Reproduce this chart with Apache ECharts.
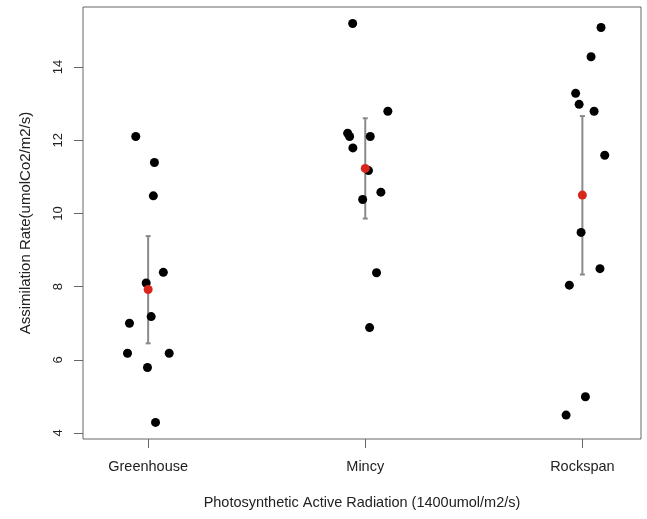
<!DOCTYPE html>
<html>
<head>
<meta charset="utf-8">
<title>Assimilation rate by site</title>
<script src="https://cdn.jsdelivr.net/npm/echarts@6/dist/echarts.min.js"></script>
<style>
  html, body { margin: 0; padding: 0; background: #fff; }
  #chart { width: 647px; height: 519px; }
</style>
</head>
<body>
<div id="chart"></div>
<script>
// sites along the x axis
const sites = ['Greenhouse', 'Mincy', 'Rockspan'];

// assimilation rate of each leaf, per site
const greenhouseRate = [12.10, 11.39, 10.48, 8.39, 8.10, 7.18, 7.00, 6.18, 6.18, 5.79, 4.29];
const mincyRate = [15.19, 12.79, 12.19, 12.10, 12.10, 11.79, 11.17, 10.58, 10.38, 8.38, 6.88];
const rockspanRate = [15.08, 14.28, 13.28, 12.98, 12.79, 11.59, 9.48, 8.49, 8.04, 4.99, 4.49];

// horizontal jitter of each point (stripchart), in category units
const greenhouseJitter = [-0.057, 0.029, 0.024, 0.070, -0.009, 0.014, -0.086, -0.095, 0.097, -0.003, 0.034];
const mincyJitter = [-0.058, 0.104, -0.081, -0.072, 0.023, -0.057, 0.015, 0.072, -0.012, 0.052, 0.020];
const rockspanJitter = [0.086, 0.040, -0.031, -0.015, 0.054, 0.103, -0.006, 0.081, -0.060, 0.014, -0.075];

// group means and error bar ends
const meanRate = [7.92, 11.23, 10.50];
const errLow = [6.45, 9.86, 8.33];
const errHigh = [9.38, 12.60, 12.66];

const yTicks = [4, 6, 8, 10, 12, 14];

const rates = [greenhouseRate, mincyRate, rockspanRate];
const jitters = [greenhouseJitter, mincyJitter, rockspanJitter];

const points = [];
rates.forEach((list, g) => {
  list.forEach((v, i) => {
    points.push([g + 1 + jitters[g][i], v]);
  });
});

const chart = echarts.init(document.getElementById('chart'));

const axisGray = '#666';
const font = 'Liberation Sans, Arial, sans-serif';

const option = {
  animation: false,
  backgroundColor: '#fff',
  grid: {
    left: 83,
    right: 6,
    top: 7,
    bottom: 80,
    show: true,
    borderColor: axisGray,
    borderWidth: 1
  },
  xAxis: {
    type: 'value',
    min: 0.70,
    max: 3.27,
    name: 'Photosynthetic Active Radiation (1400umol/m2/s)',
    nameLocation: 'middle',
    nameGap: 56,
    nameTextStyle: { color: '#222', fontSize: 14.5, fontFamily: font },
    axisLine: { show: false },
    axisTick: {
      show: true,
      length: 9,
      lineStyle: { color: axisGray },
      customValues: [1, 2, 3]
    },
    axisLabel: {
      color: '#222',
      fontSize: 14.5,
      fontFamily: font,
      margin: 20,
      customValues: [1, 2, 3],
      formatter: v => sites[Math.round(v) - 1] || ''
    },
    splitLine: { show: false }
  },
  yAxis: {
    type: 'value',
    min: 3.836,
    max: 15.64,
    name: 'Assimilation Rate(umolCo2/m2/s)',
    nameLocation: 'middle',
    nameGap: 50,
    nameTextStyle: { color: '#222', fontSize: 15, fontFamily: font },
    axisLine: { show: false },
    axisTick: {
      show: true,
      length: 9,
      lineStyle: { color: axisGray },
      customValues: yTicks
    },
    axisLabel: {
      color: '#222',
      fontSize: 13,
      fontFamily: font,
      rotate: 90,
      margin: 18,
      customValues: yTicks
    },
    splitLine: { show: false }
  },
  series: [
    {
      name: 'error',
      type: 'custom',
      data: meanRate.map((m, i) => [i + 1, errLow[i], errHigh[i]]),
      renderItem: (params, api) => {
        const lo = api.coord([api.value(0), api.value(1)]);
        const hi = api.coord([api.value(0), api.value(2)]);
        const cap = 2.5;
        const style = { stroke: '#8a8a8a', lineWidth: 2 };
        return {
          type: 'group',
          children: [
            { type: 'line', shape: { x1: lo[0], y1: lo[1], x2: hi[0], y2: hi[1] }, style },
            { type: 'line', shape: { x1: lo[0] - cap, y1: lo[1], x2: lo[0] + cap, y2: lo[1] }, style },
            { type: 'line', shape: { x1: hi[0] - cap, y1: hi[1], x2: hi[0] + cap, y2: hi[1] }, style }
          ]
        };
      },
      z: 1
    },
    {
      name: 'leaves',
      type: 'scatter',
      data: points,
      symbol: 'circle',
      symbolSize: 9,
      itemStyle: { color: '#000', opacity: 1 },
      z: 2
    },
    {
      name: 'mean',
      type: 'scatter',
      data: meanRate.map((m, i) => [i + 1, m]),
      symbol: 'circle',
      symbolSize: 9,
      itemStyle: { color: '#d8261b', opacity: 1 },
      z: 3
    }
  ]
};

chart.setOption(option);
</script>
</body>
</html>
